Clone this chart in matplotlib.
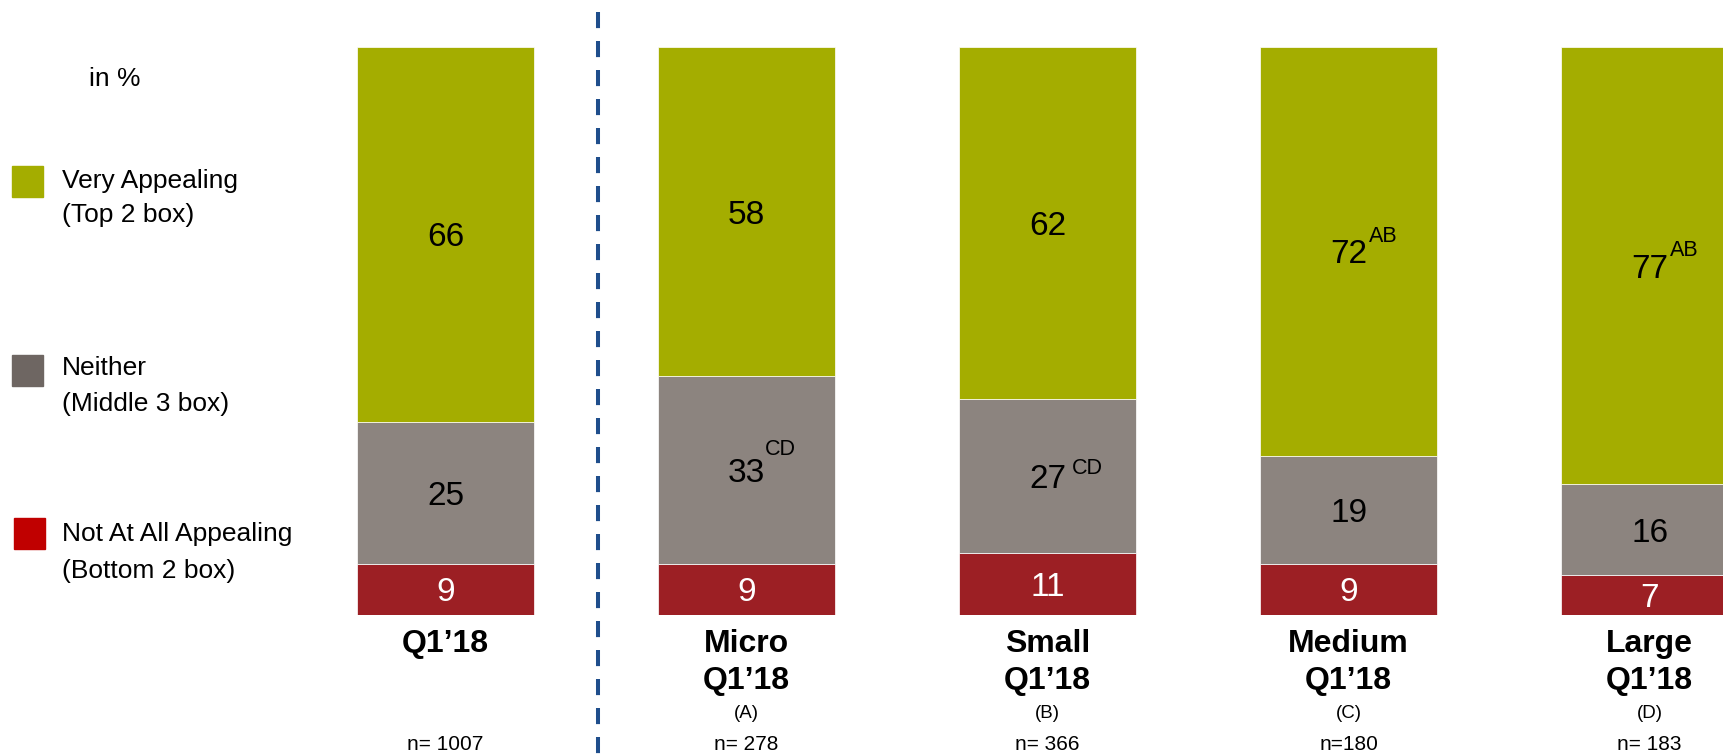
import matplotlib.pyplot as plt
import matplotlib.transforms as mtransforms
from matplotlib.patches import Rectangle
import numpy as np

plt.rcParams['font.family'] = ['Liberation Sans', 'DejaVu Sans']

# appeal of the concept, total and by company size (in %)
segments = ['Total', 'Micro', 'Small', 'Medium', 'Large']
group_names = ['', 'Micro', 'Small', 'Medium', 'Large']
group_letters = ['', '(A)', '(B)', '(C)', '(D)']
sample_sizes = ['n= 1007', 'n= 278', 'n= 366', 'n=180', 'n= 183']
bottom2 = [9, 9, 11, 9, 7]
middle3 = [25, 33, 27, 19, 16]
top2 = [66, 58, 62, 72, 77]
sig_middle = ['', 'CD', 'CD', '', '']
sig_top = ['', '', '', 'AB', 'AB']

GREEN = '#A4AD00'
GREY = '#8C847F'
RED = '#9C1F24'
BLUE = '#1F4E8C'

W, H = 1723, 754
fig = plt.figure(figsize=(W / 100, H / 100), dpi=100)


def fy(py):
    """pixel row (from top) -> figure fraction"""
    return 1 - py / H


def fx(px):
    return px / W


ax = fig.add_axes([0, fy(615), 1, fy(47) - fy(615)])
x = np.arange(len(segments))
pitch = 301.0
x0 = -445.6 / pitch
ax.set_xlim(x0, x0 + W / pitch)
ax.set_ylim(0, 100)
ax.axis('off')

bw = 177 / pitch
b0 = np.array(bottom2)
b1 = b0 + np.array(middle3)
ax.bar(x, bottom2, bw, color=RED, edgecolor='white', linewidth=0.5)
ax.bar(x, middle3, bw, bottom=b0, color=GREY, edgecolor='white', linewidth=0.5)
ax.bar(x, top2, bw, bottom=b1, color=GREEN, edgecolor='white', linewidth=0.5)

# superscript placement (points right of / above the bar centre)
sup_mid_off = [None, (13.5, 17), (17.5, 7), None, None]
sup_top_off = [None, None, None, (14.5, 12.5), (14.5, 12.5)]

for i in x:
    ax.text(i, bottom2[i] / 2, str(bottom2[i]), ha='center', va='center_baseline',
            fontsize=24, color='white')
    ym = b0[i] + middle3[i] / 2
    ax.text(i, ym, str(middle3[i]), ha='center', va='center_baseline',
            fontsize=24, color='black')
    if sig_middle[i]:
        ax.annotate(sig_middle[i], (i, ym), xytext=sup_mid_off[i],
                    textcoords='offset points', ha='left', va='center_baseline',
                    fontsize=15.5, color='black')
    yt = b1[i] + top2[i] / 2
    ax.text(i, yt, str(top2[i]), ha='center', va='center_baseline',
            fontsize=24, color='black')
    if sig_top[i]:
        ax.annotate(sig_top[i], (i, yt), xytext=sup_top_off[i],
                    textcoords='offset points', ha='left', va='center_baseline',
                    fontsize=15.5, color='black')

# category labels under the bars
trans = mtransforms.blended_transform_factory(ax.transData, fig.transFigure)
for i in x:
    if group_names[i]:
        ax.text(i, fy(644), group_names[i], transform=trans, ha='center',
                va='center', fontsize=23, fontweight='bold')
        ax.text(i, fy(681), 'Q1\u201918', transform=trans, ha='center',
                va='center', fontsize=23, fontweight='bold')
        ax.text(i, fy(713), group_letters[i], transform=trans, ha='center',
                va='center', fontsize=13.5)
        ax.text(i, fy(744), sample_sizes[i], transform=trans, ha='center',
                va='center', fontsize=15)
    else:
        ax.text(i, fy(644), 'Q1\u201918', transform=trans, ha='center',
                va='center', fontsize=23, fontweight='bold')
        ax.text(i, fy(744), sample_sizes[i], transform=trans, ha='center',
                va='center', fontsize=15)

# dashed separator between total and size groups
sep = 0.5 + (598.3 - 445.6 - 0.5 * pitch) / pitch
ax.plot([sep, sep], [fy(12), 0], transform=trans, color=BLUE, lw=2.9,
        linestyle=(0, (4.0, 3.2)), clip_on=False, solid_capstyle='butt')

# legend
fig.text(fx(89), fy(79), 'in %', ha='left', va='center', fontsize=19)
legend_items = [
    (GREEN, 'Very Appealing', '(Top 2 box)', 12, 166, 181, 215),
    ('#6E6662', 'Neither', '(Middle 3 box)', 12, 355, 368, 404),
    ('#C00000', 'Not At All Appealing', '(Bottom 2 box)', 14, 518, 534, 571),
]
for color, l1, l2, sx, sy, ty1, ty2 in legend_items:
    fig.patches.append(Rectangle((fx(sx), fy(sy + 31)), 31 / W, 31 / H,
                                 transform=fig.transFigure, color=color))
    fig.text(fx(62), fy(ty1), l1, ha='left', va='center', fontsize=19)
    fig.text(fx(62), fy(ty2), l2, ha='left', va='center', fontsize=19)

fig.savefig('out.png', dpi=100)
